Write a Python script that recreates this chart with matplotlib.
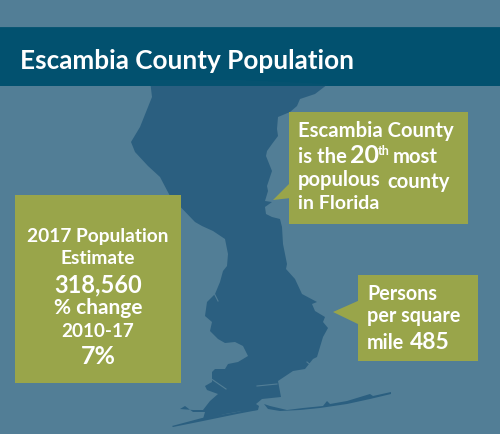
import matplotlib
matplotlib.use('Agg')
import matplotlib.pyplot as plt
from matplotlib.patches import Polygon, Rectangle

plt.rcParams['font.family'] = ['Lato', 'DejaVu Sans']

# colours
bg_col = '#527e96'
banner_col = '#02516f'
map_col = '#2b5f80'
box_col = '#99a54a'

# county outline, picture pixels (clockwise from top left)
county_x = [150, 240, 328, 315, 300, 297, 290, 278, 277, 278, 272, 267, 266, 272, 267, 268, 265, 272,
            265, 266, 272, 280, 282, 283, 287, 286, 295, 302, 317, 312, 315, 325, 323, 328, 323, 317,
            313, 305, 293, 278, 281, 262, 256, 259, 258, 242, 225, 213, 203, 205, 193, 185, 180, 193,
            203, 210, 218, 207, 205, 212, 212, 215, 225, 228, 238, 248, 243, 235, 225, 218, 210, 212,
            205, 207, 215, 220, 223, 227, 228, 225, 213, 202, 195, 170, 160, 148, 135, 131, 140, 152]
county_y = [81, 81, 85, 95, 100, 107, 113, 118, 130, 137, 145, 152, 157, 172, 187, 192, 202, 203,
            208, 215, 218, 220, 228, 245, 265, 270, 280, 295, 303, 305, 312, 318, 323, 329, 338, 358,
            360, 370, 372, 382, 398, 400, 405, 407, 411, 412, 415, 418, 420, 413, 413, 407, 410, 411,
            411, 402, 395, 391, 387, 383, 373, 370, 370, 365, 363, 357, 347, 343, 344, 340, 332, 323,
            317, 303, 295, 283, 272, 267, 255, 240, 232, 227, 223, 197, 178, 167, 153, 143, 128, 98]

# barrier islands
island1_x = [172, 202, 237, 258, 258, 237, 203, 173]
island1_y = [427, 419, 413, 408, 411, 415, 422, 428]
island2_x = [264, 270, 287, 303, 323, 327, 330, 347, 370, 373, 391, 391, 370, 347, 320, 300, 280, 268]
island2_y = [405, 407, 411, 409, 407, 402, 405, 402, 395, 397, 393, 395, 400, 405, 409, 411, 412, 410]

# thin inlets inside the county: x0, y0, x1, y1
inlets = [(210, 379, 226, 390), (257, 387, 277, 385), (214, 294, 218, 302), (307, 363, 312, 367)]

# boxes: x, y, width, height
box_pop = (15, 196, 166, 188)
box_rank = (289, 113, 179, 112)
box_density = (358, 276, 120, 86)
tail_rank = [(291, 183), (273, 201), (291, 199)]
tail_density = [(360, 301), (333, 313), (360, 326)]

# text lines: label, x, baseline y, size
title_text = 'Escambia County Population'
pop_lines = [('2017 Population', 98, 242, 13.8), ('Estimate', 98, 264, 13.8), ('318,560', 98, 292, 17),
             ('% change', 98, 314, 15), ('2010-17', 98, 337, 13.6), ('7%', 98, 364, 18)]
rank_lines = [('Escambia County', 298, 137, 14.6), ('is the', 298, 163, 14.6), ('20', 350, 163, 18),
              ('th', 378, 155, 9), ('most', 393, 163, 14.6), ('populous', 298, 186, 14.6),
              ('county', 387, 188, 14.6), ('in Florida', 298, 209, 14)]
density_lines = [('Persons', 367, 300, 14.2), ('per square', 367, 322, 14.2), ('mile', 367, 349, 14.2),
                 ('485', 410, 349, 16.5)]

fig = plt.figure(figsize=(5, 4.35), dpi=100, facecolor=bg_col)
ax = fig.add_axes([0, 0, 1, 1])
ax.set_xlim(0, 500)
ax.set_ylim(435, 0)
ax.axis('off')

ax.add_patch(Rectangle((0, 28), 500, 59, fc=banner_col, ec='none', zorder=1))
ax.plot([0, 500], [28, 28], color='#6c93a8', lw=0.6, zorder=1)

ax.add_patch(Polygon(list(zip(county_x, county_y)), fc=map_col, ec='none', zorder=2))
ax.add_patch(Polygon(list(zip(island1_x, island1_y)), fc=map_col, ec='none', zorder=2))
ax.add_patch(Polygon(list(zip(island2_x, island2_y)), fc=map_col, ec='none', zorder=2))
for x0, y0, x1, y1 in inlets:
    ax.plot([x0, x1], [y0, y1], color=bg_col, lw=0.8, zorder=2.5)

# top of the county only just shows through the banner
ax.add_patch(Rectangle((0, 28), 500, 59, fc=banner_col, ec='none', alpha=0.9, zorder=3))
ax.text(20, 69, title_text, color='white', fontsize=18.8, fontweight='bold', zorder=5)

for b in [box_pop, box_rank, box_density]:
    ax.add_patch(Rectangle((b[0], b[1]), b[2], b[3], fc=box_col, ec='none', zorder=4))
ax.add_patch(Polygon(tail_rank, fc=box_col, ec='none', zorder=4))
ax.add_patch(Polygon(tail_density, fc=box_col, ec='none', zorder=4))

for label, x, y, size in pop_lines:
    ax.text(x, y, label, color='white', fontsize=size, fontweight='bold', ha='center', zorder=5)
for label, x, y, size in rank_lines + density_lines:
    ax.text(x, y, label, color='white', fontsize=size, fontweight='bold', zorder=5)

fig.savefig('out.png', dpi=100, facecolor=bg_col)
